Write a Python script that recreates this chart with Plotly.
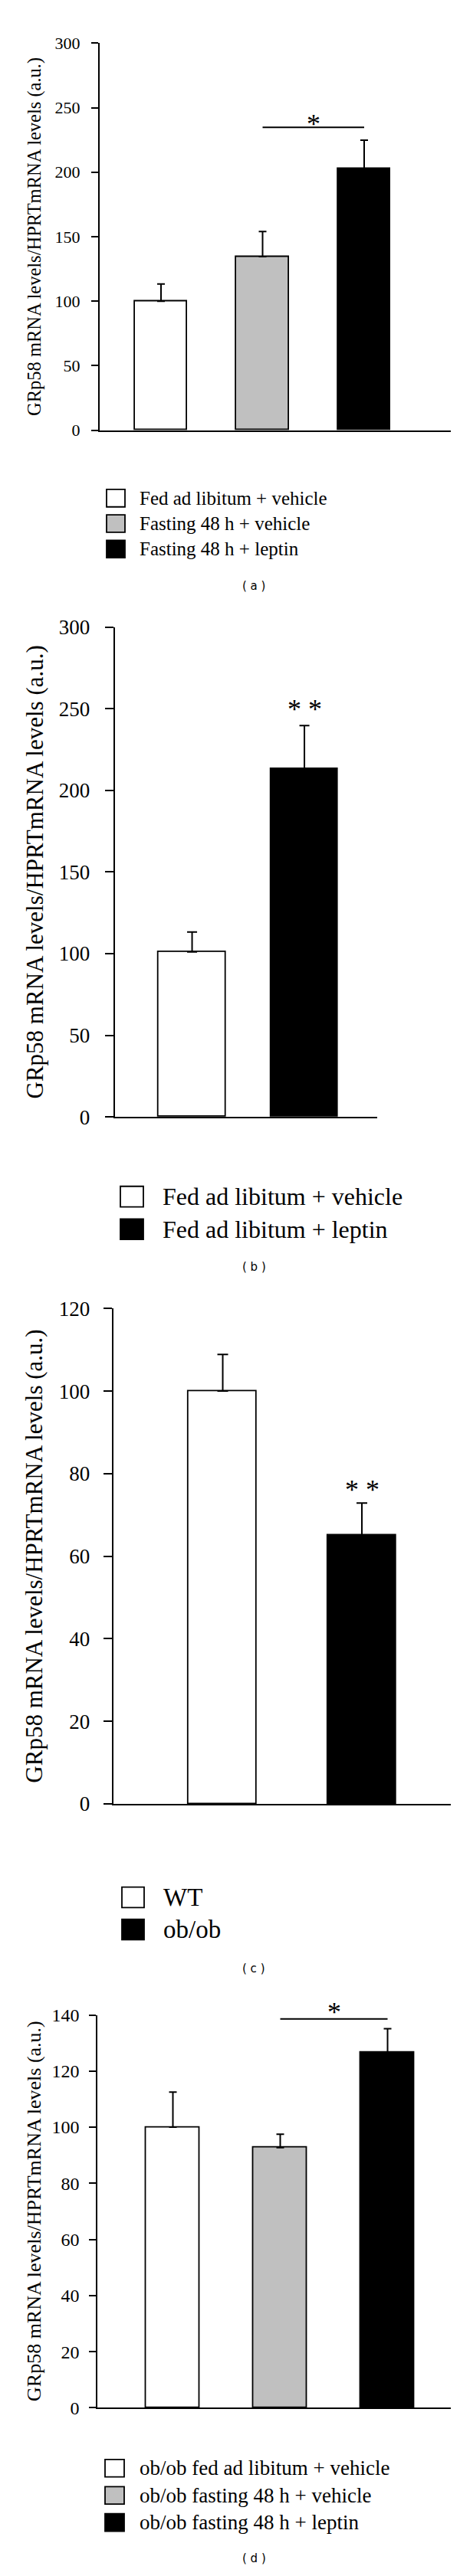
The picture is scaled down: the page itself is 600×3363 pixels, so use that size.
import plotly.graph_objects as go

W, H = 600, 3363
SERIF = "Liberation Serif"
YTITLE = "GRp58 mRNA levels/HPRTmRNA levels (a.u.)"

# (a)
groups_a = ["Fed ad libitum + vehicle", "Fasting 48 h + vehicle", "Fasting 48 h + leptin"]
mean_a = [100, 134.5, 202.5]
sem_a = [13.3, 19.5, 22.3]
fills_a = ["white", "#c0c0c0", "black"]

# (b)
groups_b = ["Fed ad libitum + vehicle", "Fed ad libitum + leptin"]
mean_b = [101, 213]
sem_b = [12.3, 26.7]
fills_b = ["white", "black"]

# (c)
groups_c = ["WT", "ob/ob"]
mean_c = [100, 65]
sem_c = [8.9, 7.9]
fills_c = ["white", "black"]

# (d)
groups_d = ["ob/ob fed ad libitum + vehicle", "ob/ob fasting 48 h + vehicle",
            "ob/ob fasting 48 h + leptin"]
mean_d = [100, 92.7, 126.5]
sem_d = [12.5, 4.8, 8.6]
fills_d = ["white", "#c0c0c0", "black"]

# significance marks: (from bar, to bar, bracket level, star level, text)
sig_a = [(1, 2, 234.7, 241.5, "*")]
sig_b = [(1, 1, None, 253, "* *")]
sig_c = [(1, 1, None, 77.4, "* *")]
sig_d = [(1, 2, 138.6, 142.8, "*")]


def px(x):
    return x / W


def py(y):
    return 1 - y / H


panels = [
    dict(tag="a", groups=groups_a, mean=mean_a, sem=sem_a, fills=fills_a, sig=sig_a,
         xpx=(122, 580), ypx=(543.4, 33.7), ymax=300, dtick=50,
         xr=[-0.604, 2.853], bw=0.52, tick=22, ticklen=9, stand=10, cap=5,
         tsize=24.5, tx=37, leg=(131, 633, 33.5, 24, 23, 172, 25), tag_y=749),
    dict(tag="b", groups=groups_b, mean=mean_b, sem=sem_b, fills=fills_b, sig=sig_b,
         xpx=(141.6, 484), ypx=(1448, 803), ymax=300, dtick=50,
         xr=[-0.689, 1.648], bw=0.6, tick=27, ticklen=11, stand=14, cap=6.5,
         tsize=31, tx=37, leg=(149, 1553, 43, 30, 27, 202, 32), tag_y=1646),
    dict(tag="c", groups=groups_c, mean=mean_c, sem=sem_c, fills=fills_c, sig=sig_c,
         xpx=(139.7, 580), ypx=(2353, 1700.5), ymax=120, dtick=20,
         xr=[-0.787, 1.639], bw=0.49, tick=27, ticklen=11, stand=12, cap=7,
         tsize=31, tx=37, leg=(151, 2476, 42.5, 29, 27, 203, 33), tag_y=2570),
    dict(tag="d", groups=groups_d, mean=mean_d, sem=sem_d, fills=fills_d, sig=sig_d,
         xpx=(119.4, 580), ypx=(3148.5, 2631), ymax=140, dtick=20,
         xr=[-0.7007, 2.589], bw=0.496, tick=24, ticklen=9, stand=8, cap=5,
         tsize=26, tx=37, leg=(129, 3228, 35.8, 25, 23, 172, 27), tag_y=3347),
]

fig = go.Figure()
shapes, annos = [], []
layout = {}

for i, p in enumerate(panels):
    n = i + 1
    xa, ya = ("x", "y") if n == 1 else (f"x{n}", f"y{n}")
    xkey, ykey = ("xaxis", "yaxis") if n == 1 else (f"xaxis{n}", f"yaxis{n}")
    unit = (p["ypx"][0] - p["ypx"][1]) / p["ymax"]  # px per data unit

    fig.add_trace(go.Bar(
        x=p["groups"], y=p["mean"], xaxis=xa, yaxis=ya, width=p["bw"],
        marker=dict(color=p["fills"], line=dict(color="black", width=1.8)),
        error_y=dict(type="data", array=p["sem"], arrayminus=[0] * len(p["sem"]),
                     symmetric=False, color="black", thickness=2, width=p["cap"]),
        showlegend=False, hoverinfo="x+y"))

    layout[xkey] = dict(domain=[px(p["xpx"][0]), px(p["xpx"][1])], anchor=ya,
                        type="category", range=p["xr"], showticklabels=False,
                        ticks="", showline=True, linecolor="black", linewidth=2,
                        showgrid=False, zeroline=False, fixedrange=True)
    layout[ykey] = dict(domain=[py(p["ypx"][0]), py(p["ypx"][1])], anchor=xa,
                        range=[0, p["ymax"]], dtick=p["dtick"], tick0=0,
                        ticks="outside", ticklen=p["ticklen"], tickwidth=2,
                        tickcolor="black", ticklabelstandoff=p["stand"],
                        tickfont=dict(family=SERIF, size=p["tick"], color="black"),
                        showline=True, linecolor="black", linewidth=2,
                        showgrid=False, zeroline=False, fixedrange=True)

    # y title
    annos.append(dict(text=YTITLE, textangle=-90, xref="paper", yref="paper",
                      x=px(p["tx"]), y=py((p["ypx"][0] + p["ypx"][1]) / 2),
                      xanchor="center", yanchor="middle", showarrow=False,
                      font=dict(family=SERIF, size=p["tsize"], color="black")))

    # significance (anchored inside the axis range, shifted up in pixels)
    for a, b, lvl, slvl, txt in p["sig"]:
        if lvl is not None:
            shapes.append(dict(type="line", xref=xa, yref=ya, x0=a, x1=b, y0=lvl, y1=lvl,
                               line=dict(color="black", width=2)))
        base = min(slvl, p["ymax"])
        annos.append(dict(text=txt, xref=xa, yref=ya, x=(a + b) / 2, y=base,
                          xanchor="center", yanchor="middle",
                          yshift=(slvl - base) * unit - 7, showarrow=False,
                          font=dict(family=SERIF, size=36, color="black")))

    # legend
    lx, ly, dy, bwid, bhgt, tx, fs = p["leg"]
    for k, (name, col) in enumerate(zip(p["groups"], p["fills"])):
        cy = ly + k * dy
        shapes.append(dict(type="rect", xref="paper", yref="paper",
                           x0=px(lx), x1=px(lx + bwid), y0=py(cy + bhgt / 2), y1=py(cy - bhgt / 2),
                           fillcolor=col, line=dict(color="black", width=1.8)))
        annos.append(dict(text=name, xref="paper", yref="paper", x=px(tx), y=py(cy),
                          xanchor="left", yanchor="middle", showarrow=False,
                          font=dict(family=SERIF, size=fs, color="black")))

    # panel tag
    annos.append(dict(text=f"( {p['tag']} )", xref="paper", yref="paper",
                      x=px(323), y=py(p["tag_y"]), xanchor="center", yanchor="middle",
                      showarrow=False, font=dict(family="DejaVu Sans", size=15, color="black")))

fig.update_layout(
    width=W, height=H, margin=dict(l=0, r=0, t=0, b=0),
    paper_bgcolor="white", plot_bgcolor="white",
    shapes=shapes, annotations=annos, bargap=0, **layout)

fig.write_html("out.html")
